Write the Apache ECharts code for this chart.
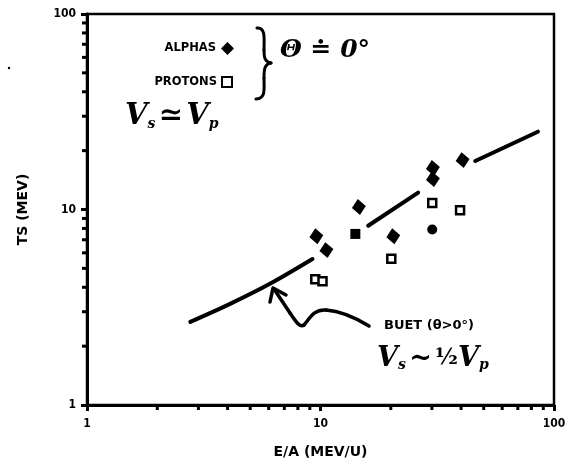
<!DOCTYPE html>
<html>
<head>
<meta charset="utf-8">
<script src="https://cdn.jsdelivr.net/npm/echarts@6/dist/echarts.min.js"></script>
<style>html,body{margin:0;padding:0;background:#fff}#c{width:570px;height:468px}</style>
</head>
<body>
<div id="c"></div>
<script>
// ---- data ----
const alphaX = [9.6, 10.6, 14.6, 20.5, 30.3, 30.3, 40.6];
const alphaY = [7.3, 6.2, 10.3, 7.3, 16.3, 14.3, 17.9];
const protonX = [9.5, 10.2, 20.1, 30.1, 39.6];
const protonY = [4.4, 4.3, 5.6, 10.8, 9.9];
const filledSquareX = [14.1];
const filledSquareY = [7.5];
const filledCircleX = [30.1];
const filledCircleY = [7.9];
const curveX = [2.77, 4.1, 6.1, 9.24, null, 16.0, 26.2, null, 46.0, 85.3];
const curveY = [2.66, 3.29, 4.18, 5.58, null, 8.26, 12.2, null, 17.7, 25.0];
const minorTicks = [2, 3, 4, 5, 6, 7, 8, 9, 20, 30, 40, 50, 60, 70, 80, 90];
const axisMin = 1, axisMax = 100;

const pair = (xs, ys) => xs.map((x, i) => (x === null ? '-' : [x, ys[i]]));
const FONT = "'DejaVu Sans Condensed','DejaVu Sans','Liberation Sans',sans-serif";
const HAND = "'DejaVu Serif','Liberation Serif',serif";

const tickData = minorTicks.map(v => [v, axisMin, 0]).concat(minorTicks.map(v => [axisMin, v, 1]));

function bez(p0, c1, c2, p1, w) {
  return { type: 'bezierCurve',
    shape: { x1: p0[0], y1: p0[1], cpx1: c1[0], cpy1: c1[1], cpx2: c2[0], cpy2: c2[1], x2: p1[0], y2: p1[1] },
    style: { fill: null, stroke: '#000', lineWidth: w, lineCap: 'round' } };
}

const chart = echarts.init(document.getElementById('c'));
const axisCommon = {
  type: 'log', logBase: 10, min: axisMin, max: axisMax,
  axisLine: { lineStyle: { color: '#000', width: 3 } },
  axisTick: { length: 6, lineStyle: { color: '#000', width: 3 } },
  axisLabel: { color: '#000', fontFamily: FONT, fontWeight: 'bold', fontSize: 12 },
  splitLine: { show: false },
  nameLocation: 'middle',
  nameTextStyle: { color: '#000', fontFamily: "'DejaVu Sans',sans-serif", fontWeight: 'bold', fontSize: 14 }
};
chart.setOption({
  backgroundColor: '#fff',
  animation: false,
  grid: { left: 87, right: 16, top: 14, bottom: 63, show: true, borderColor: '#000', borderWidth: 2.5 },
  xAxis: Object.assign({}, axisCommon, { name: 'E/A (MEV/U)', nameGap: 40,
    axisLabel: Object.assign({}, axisCommon.axisLabel, { margin: 13 }) }),
  yAxis: Object.assign({}, axisCommon, { name: 'TS (MEV)', nameGap: 57,
    axisLabel: Object.assign({}, axisCommon.axisLabel, { margin: 11 }) }),
  legend: [
    { data: ['ALPHAS'], right: 331, top: 37, align: 'right', itemWidth: 13, itemHeight: 13, itemGap: 0,
      textStyle: { color: '#000', fontFamily: "'DejaVu Sans',sans-serif", fontWeight: 'bold', fontSize: 11.5 } },
    { data: ['PROTONS'], right: 332, top: 71, align: 'right', itemWidth: 10, itemHeight: 10, itemGap: 0,
      textStyle: { color: '#000', fontFamily: "'DejaVu Sans',sans-serif", fontWeight: 'bold', fontSize: 11.5 } }
  ],
  series: [
    { name: 'BUET (θ>0°)', type: 'line', data: pair(curveX, curveY), connectNulls: false,
      showSymbol: false, smooth: 0.3, lineStyle: { color: '#000', width: 4, cap: 'round' } },
    { name: 'ALPHAS', type: 'scatter', data: pair(alphaX, alphaY), symbol: 'diamond',
      symbolSize: [14, 16], symbolRotate: 8, itemStyle: { color: '#000', opacity: 1 } },
    { name: 'PROTONS', type: 'scatter', data: pair(protonX, protonY), symbol: 'rect', symbolSize: 8,
      itemStyle: { color: '#fff', borderColor: '#000', borderWidth: 2.5, opacity: 1 } },
    { name: 'alpha-square', type: 'scatter', data: pair(filledSquareX, filledSquareY), symbol: 'rect',
      symbolSize: 10, itemStyle: { color: '#000', opacity: 1 } },
    { name: 'alpha-circle', type: 'scatter', data: pair(filledCircleX, filledCircleY), symbol: 'circle',
      symbolSize: 10, itemStyle: { color: '#000', opacity: 1 } },
    { name: 'minor-ticks', type: 'custom', data: tickData, silent: true, clip: false,
      renderItem: function (params, api) {
        const p = api.coord([api.value(0), api.value(1)]);
        const isY = api.value(2) === 1;
        return { type: 'line',
          shape: isY ? { x1: p[0] - 5, y1: p[1], x2: p[0], y2: p[1] } : { x1: p[0], y1: p[1], x2: p[0], y2: p[1] + 5 },
          style: { stroke: '#000', lineWidth: 3 } };
      } }
  ],
  graphic: [
    // brace
    bez([257, 28], [266, 27], [264, 40], [264, 50], 3),
    bez([264, 50], [264, 58], [265, 62], [271, 63], 3),
    bez([271, 63], [265, 64], [264, 68], [264, 78], 3),
    bez([264, 78], [264, 90], [266, 98], [256, 99], 3),
    { type: 'text', left: 280, top: 38, style: { text: 'Θ ≐ 0°', fill: '#000',
      font: "bold italic 25px " + HAND } },
    { type: 'text', left: 125, top: 102, style: {
      text: '{v|V}{s|s} {v|≃} {v|V}{s|p}', fill: '#000',
      rich: { v: { font: "bold italic 29px " + HAND, fill: '#000' },
              s: { font: "bold italic 14px " + HAND, fill: '#000', verticalAlign: 'bottom', padding: [10, 0, 0, 0] } } } },
    // arrow
    bez([369, 326], [356, 318], [340, 311], [326, 310], 3.5),
    bez([326, 310], [314, 309], [310, 318], [304, 325], 3.5),
    bez([304, 325], [300, 328], [296, 322], [290, 313], 3.5),
    { type: 'line', shape: { x1: 290, y1: 313, x2: 274, y2: 289 },
      style: { stroke: '#000', lineWidth: 3.5, lineCap: 'round' } },
    { type: 'polyline', shape: { points: [[270, 302], [273, 288], [286, 295]] },
      style: { fill: null, stroke: '#000', lineWidth: 3.5, lineCap: 'round', lineJoin: 'round' } },
    { type: 'text', left: 384, top: 319, style: { text: 'BUET (θ>0°)', fill: '#000',
      font: "bold 13px 'DejaVu Sans',sans-serif" } },
    { type: 'text', left: 377, top: 345, style: {
      text: '{v|V}{s|s} {v|~} {h|½}{v|V}{s|p}', fill: '#000',
      rich: { v: { font: "bold italic 27px " + HAND, fill: '#000' },
              h: { font: "bold 22px " + HAND, fill: '#000' },
              s: { font: "bold italic 14px " + HAND, fill: '#000', verticalAlign: 'bottom', padding: [10, 0, 0, 0] } } } },
    // scan speck
    { type: 'circle', shape: { cx: 9, cy: 68, r: 1.2 }, style: { fill: '#000' } }
  ]
});
</script>
</body>
</html>
